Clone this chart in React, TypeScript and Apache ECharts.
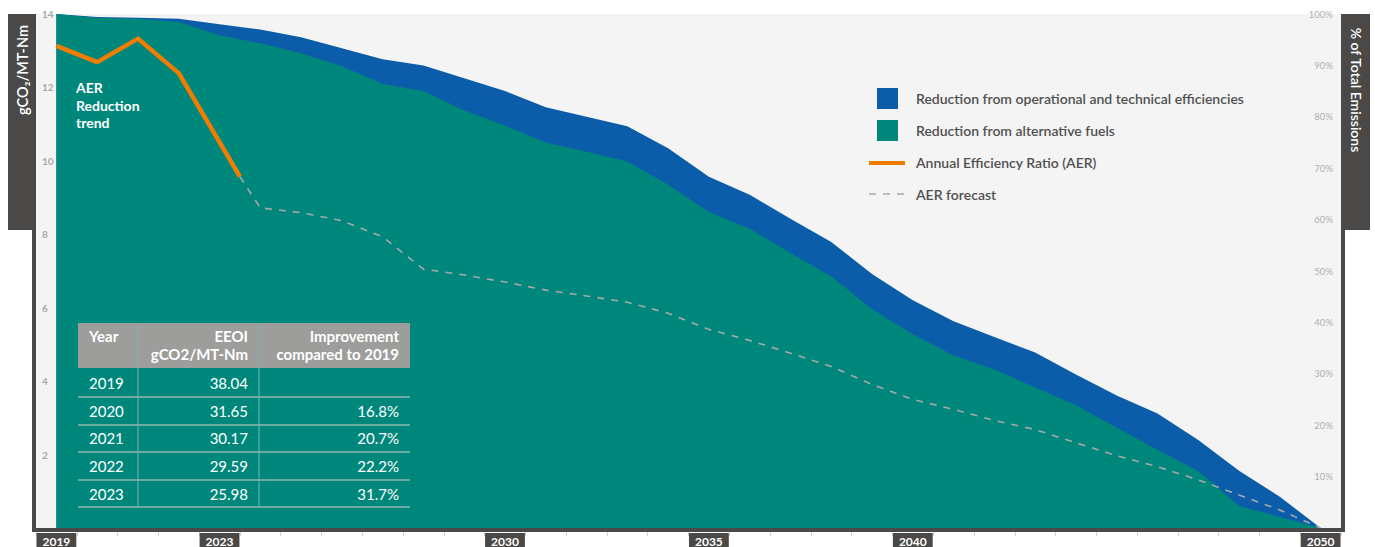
import React, { useEffect, useRef } from 'react';
import * as echarts from 'echarts';

// ---------- data ----------
const years = [
  '2019', '2020', '2021', '2022', '2023', '2024', '2025', '2026', '2027', '2028', '2029',
  '2030', '2031', '2032', '2033', '2034', '2035', '2036', '2037', '2038', '2039',
  '2040', '2041', '2042', '2043', '2044', '2045', '2046', '2047', '2048', '2049', '2050',
];
const labelYears = ['2019', '2023', '2030', '2035', '2040', '2050'];

// upper edge of the blue band (remaining emissions before efficiency reductions)
const totalTop = [
  14.0, 13.92, 13.9, 13.87, 13.72, 13.58, 13.37, 13.07, 12.77, 12.6, 12.25,
  11.9, 11.46, 11.2, 10.94, 10.34, 9.57, 9.08, 8.42, 7.79, 6.92,
  6.2, 5.63, 5.2, 4.78, 4.18, 3.61, 3.12, 2.4, 1.56, 0.85, 0,
];
// upper edge of the teal area (after efficiency reductions)
const fuelsTop = [
  14.0, 13.9, 13.87, 13.78, 13.42, 13.2, 12.93, 12.58, 12.09, 11.9, 11.37,
  10.96, 10.5, 10.25, 9.98, 9.35, 8.61, 8.15, 7.49, 6.86, 5.96,
  5.28, 4.7, 4.32, 3.83, 3.34, 2.73, 2.13, 1.55, 0.6, 0.3, 0,
];

const aerYears = [2019, 2020, 2021, 2022, 2023.5];
const aerValues = [13.13, 12.69, 13.33, 12.39, 9.57];

const forecastYears = [
  2023.5, 2024, 2025, 2026, 2027, 2028, 2029, 2030, 2031, 2032, 2033, 2034, 2035, 2036,
  2037, 2038, 2039, 2040, 2041, 2042, 2043, 2044, 2045, 2046, 2047, 2048, 2049, 2050,
];
const forecastValues = [
  9.57, 8.72, 8.59, 8.37, 7.93, 7.05, 6.89, 6.7, 6.48, 6.32, 6.15, 5.85, 5.41, 5.11,
  4.76, 4.4, 3.91, 3.5, 3.23, 2.93, 2.68, 2.32, 1.97, 1.67, 1.31, 0.9, 0.49, 0,
];

const leftTicks = { min: 0, max: 14, interval: 2 };
const rightTicks = { min: 0, max: 100, interval: 10 };

const tableHeader = [['Year'], ['EEOI', 'gCO2/MT-Nm'], ['Improvement', 'compared to 2019']];
const tableYears = ['2019', '2020', '2021', '2022', '2023'];
const tableEEOI = ['38.04', '31.65', '30.17', '29.59', '25.98'];
const tableImprovement = ['', '16.8%', '20.7%', '22.2%', '31.7%'];

const legendNames = [
  'Reduction from operational and technical efficiencies',
  'Reduction from alternative fuels',
  'Annual Efficiency Ratio (AER)',
  'AER forecast',
];

// ---------- styles ----------
const FONT = 'Lato, "Noto Sans", sans-serif';
const DARK = '#4a4948';
const BLUE = '#0c5da9';
const TEAL = '#00877b';
const ORANGE = '#f07d00';
const FORECAST = '#a9a9a9';
const PLOT_BG = '#f4f4f4';

function txt(x: number, y: number, text: string, opts: any = {}) {
  const align = opts.align || 'left';
  const va = opts.va || 'middle';
  return {
    type: 'text',
    x,
    y,
    rotation: opts.rotation || 0,
    z: opts.z ?? 20,
    style: {
      text,
      fill: opts.fill || '#fff',
      font: opts.font || `bold 14px ${FONT}`,
      align,
      textAlign: align,
      verticalAlign: va,
      textVerticalAlign: va,
    },
  };
}

function rect(x: number, y: number, w: number, h: number, fill: string, z = 5) {
  return { type: 'rect', z, shape: { x, y, width: w, height: h }, style: { fill } };
}

function line(x1: number, y1: number, x2: number, y2: number, stroke: string, lw: number, z = 20, dash?: number[]) {
  return {
    type: 'line',
    z,
    shape: { x1, y1, x2, y2 },
    style: { stroke, lineWidth: lw, lineDash: dash },
  };
}

export default function App() {
  const ref = useRef<HTMLDivElement>(null);

  useEffect(() => {
    const chart = echarts.init(ref.current!, null, { renderer: 'svg' });

    const graphics: any[] = [];
    // frame and side bars
    graphics.push(rect(8, 14, 28, 216, DARK));
    graphics.push(rect(32, 14, 4, 518, DARK));
    graphics.push(rect(32, 528, 1313, 4, DARK));
    graphics.push(rect(1341, 14, 4, 518, DARK));
    graphics.push(rect(1341, 14, 29, 216, DARK));
    graphics.push(txt(22, 70, 'gCO₂/MT-Nm', { align: 'center', rotation: Math.PI / 2, font: `600 14.5px ${FONT}` }));
    graphics.push(txt(1356, 90, '% of Total Emissions', { align: 'center', rotation: -Math.PI / 2, font: `600 14px ${FONT}` }));

    // AER annotation
    graphics.push(txt(76, 87, 'AER'));
    graphics.push(txt(76, 105, 'Reduction'));
    graphics.push(txt(76, 122, 'trend'));

    // legend
    const legendText = `600 14px ${FONT}`;
    graphics.push(rect(877, 88, 21, 21, BLUE, 20));
    graphics.push(rect(877, 120, 21, 21, TEAL, 20));
    graphics.push(line(869, 163, 905, 163, ORANGE, 4));
    graphics.push(line(869, 194, 905, 194, FORECAST, 1.5, 20, [7, 7]));
    const legendY = [98, 130, 162, 194];
    legendNames.forEach((n, i) => graphics.push(txt(916, legendY[i], n, { fill: '#505050', font: legendText })));

    // table
    const tL = 78, tR = 410, c1 = 138, c2 = 259;
    const headTop = 323, headBot = 368;
    const headFont = `bold 15px ${FONT}`;
    graphics.push(rect(tL, headTop, tR - tL, headBot - headTop, '#9d9d9c', 30));
    graphics.push(txt(89, 336, tableHeader[0][0], { z: 31, font: headFont }));
    graphics.push(txt(248, 336, tableHeader[1][0], { z: 31, align: 'right', font: headFont }));
    graphics.push(txt(248, 354, tableHeader[1][1], { z: 31, align: 'right', font: headFont }));
    graphics.push(txt(399, 336, tableHeader[2][0], { z: 31, align: 'right', font: headFont }));
    graphics.push(txt(399, 354, tableHeader[2][1], { z: 31, align: 'right', font: headFont }));
    const rowCenters = [383, 411, 438, 466, 494];
    const rowLines = [397, 425, 452, 480, 507];
    rowLines.forEach((y) => graphics.push(line(tL, y, tR, y, '#8fb8b2', 1.5, 31)));
    graphics.push(line(c1, headTop, c1, 507, '#7fb3ac', 1, 31));
    graphics.push(line(c2, headTop, c2, 507, '#7fb3ac', 1, 31));
    const bodyFont = `15px ${FONT}`;
    tableYears.forEach((y, i) => {
      graphics.push(txt(89, rowCenters[i], y, { z: 31, font: bodyFont }));
      graphics.push(txt(248, rowCenters[i], tableEEOI[i], { z: 31, font: bodyFont, align: 'right' }));
      if (tableImprovement[i]) {
        graphics.push(txt(399, rowCenters[i], tableImprovement[i], { z: 31, font: bodyFont, align: 'right' }));
      }
    });

    const yearNums = years.map((y) => Number(y));

    const option: any = {
      animation: false,
      backgroundColor: '#ffffff',
      textStyle: { fontFamily: FONT },
      grid: {
        left: 36,
        right: 34,
        top: 14,
        bottom: 19,
        show: true,
        backgroundColor: PLOT_BG,
        borderWidth: 0,
        containLabel: false,
      },
      xAxis: [
        {
          type: 'category',
          data: years,
          boundaryGap: true,
          position: 'bottom',
          offset: 4,
          axisLine: { show: false },
          axisTick: { show: true, interval: 0, length: 8, lineStyle: { color: '#d0d0d0', width: 1 } },
          axisLabel: {
            interval: (_i: number, v: string) => labelYears.includes(v),
            color: '#ffffff',
            fontFamily: FONT,
            fontWeight: 'bold',
            fontSize: 12,
            lineHeight: 12,
            backgroundColor: DARK,
            padding: [2, 6, 0, 6],
            margin: 1,
          },
          splitLine: { show: false },
        },
        {
          type: 'value',
          min: 2018.5,
          max: 2050.5,
          position: 'top',
          show: false,
          splitLine: { show: false },
        },
      ],
      yAxis: [
        {
          type: 'value',
          min: leftTicks.min,
          max: leftTicks.max,
          interval: leftTicks.interval,
          position: 'left',
          axisLine: { show: false },
          axisTick: { show: false },
          splitLine: { show: false },
          axisLabel: {
            inside: true,
            margin: 6,
            showMinLabel: false,
            color: '#a8a8a8',
            fontFamily: FONT,
            fontWeight: 'bold',
            fontSize: 10,
          },
        },
        {
          type: 'value',
          min: rightTicks.min,
          max: rightTicks.max,
          interval: rightTicks.interval,
          position: 'right',
          axisLine: { show: false },
          axisTick: { show: false },
          splitLine: { show: false },
          axisLabel: {
            inside: true,
            margin: 8,
            showMinLabel: false,
            formatter: '{value}%',
            color: '#b0b0b0',
            fontFamily: FONT,
            fontSize: 9.5,
          },
        },
      ],
      series: [
        {
          name: legendNames[0],
          type: 'line',
          xAxisIndex: 1,
          yAxisIndex: 0,
          data: yearNums.map((y, i) => [y, totalTop[i]]),
          symbol: 'none',
          lineStyle: { width: 0 },
          areaStyle: { color: BLUE, opacity: 1 },
          z: 2,
        },
        {
          name: legendNames[1],
          type: 'line',
          xAxisIndex: 1,
          yAxisIndex: 0,
          data: yearNums.map((y, i) => [y, fuelsTop[i]]),
          symbol: 'none',
          lineStyle: { width: 0 },
          areaStyle: { color: TEAL, opacity: 1 },
          z: 3,
        },
        {
          name: legendNames[3],
          type: 'line',
          xAxisIndex: 1,
          yAxisIndex: 0,
          data: forecastYears.map((y, i) => [y, forecastValues[i]]),
          symbol: 'none',
          lineStyle: { color: FORECAST, width: 1.6, type: [7, 7] },
          z: 4,
        },
        {
          name: legendNames[2],
          type: 'line',
          xAxisIndex: 1,
          yAxisIndex: 0,
          data: aerYears.map((y, i) => [y, aerValues[i]]),
          symbol: 'none',
          lineStyle: { color: ORANGE, width: 4.5, join: 'round' },
          z: 5,
        },
      ],
      graphic: { elements: graphics },
    };

    chart.setOption(option);
    return () => chart.dispose();
  }, []);

  return (
    <div
      ref={ref}
      style={{ position: 'absolute', left: 0, top: 0, width: 1375, height: 547, background: '#fff' }}
    />
  );
}
